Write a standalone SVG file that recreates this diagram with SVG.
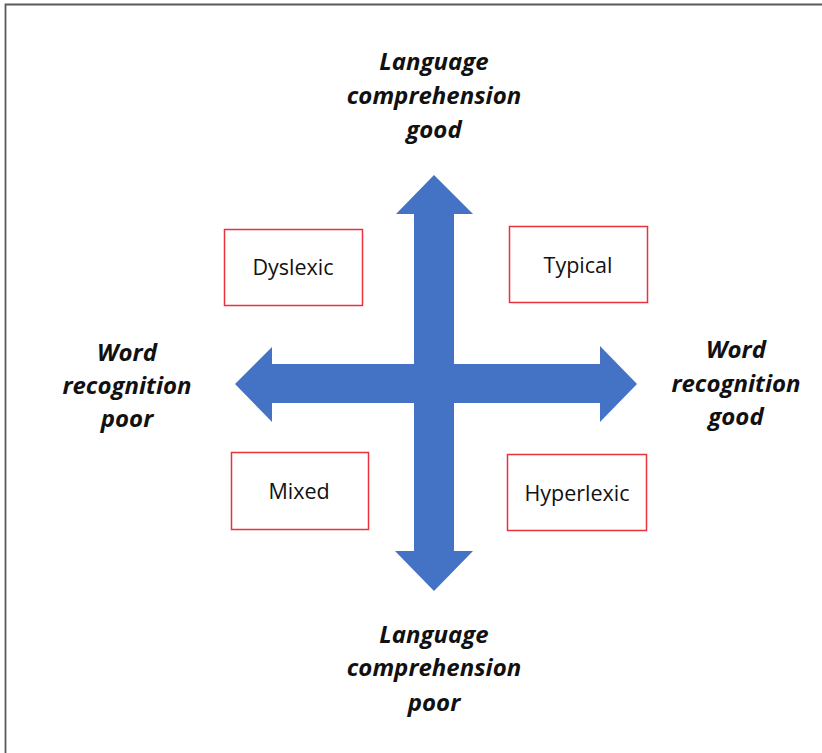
<svg xmlns="http://www.w3.org/2000/svg" width="822" height="753" viewBox="0 0 822 753">
<style>
.box{fill:#fff;stroke:#e8323c;stroke-width:1.5}
.lbl{font-family:"Open Sans",Lato,sans-serif;font-size:21.5px;fill:#111;text-anchor:middle}
.ax{font-family:"Open Sans",Lato,sans-serif;font-size:24px;font-weight:bold;font-style:italic;fill:#111;text-anchor:middle}
.arrow{fill:#4472c4}
</style>
<rect width="822" height="753" fill="#fff"/>
<path d="M822 4.5H5.5V753" fill="none" stroke="#5a5a5a" stroke-width="1.8"/>
<g id="connectors">
<path class="arrow" d="M434 175L473 214H454V364H600V346L637 384L600 422V403H454V551H473L434 591L395 551H414V403H272V422L235 384L272 347V364H414V214H396Z"/>
</g>
<g id="axis-top">
<text class="ax" x="434" y="70">Language</text>
<text class="ax" x="434" y="104">comprehension</text>
<text class="ax" x="434" y="138">good</text>
</g>
<g id="axis-bottom">
<text class="ax" x="434" y="643">Language</text>
<text class="ax" x="434" y="676">comprehension</text>
<text class="ax" x="434" y="711">poor</text>
</g>
<g id="axis-left">
<text class="ax" x="127" y="361">Word</text>
<text class="ax" x="127" y="394">recognition</text>
<text class="ax" x="127" y="427">poor</text>
</g>
<g id="axis-right">
<text class="ax" x="736" y="358">Word</text>
<text class="ax" x="736" y="392">recognition</text>
<text class="ax" x="736" y="425">good</text>
</g>
<g id="dyslexic">
<rect class="box" x="224.5" y="229.5" width="138" height="76"/>
<text class="lbl" x="293" y="275">Dyslexic</text>
</g>
<g id="typical">
<rect class="box" x="509.5" y="226.5" width="138" height="76"/>
<text class="lbl" x="578" y="273">Typical</text>
</g>
<g id="mixed">
<rect class="box" x="231.5" y="452.5" width="137" height="77"/>
<text class="lbl" x="299" y="499">Mixed</text>
</g>
<g id="hyperlexic">
<rect class="box" x="507.5" y="454.5" width="139" height="76"/>
<text class="lbl" x="577" y="501">Hyperlexic</text>
</g>
</svg>
